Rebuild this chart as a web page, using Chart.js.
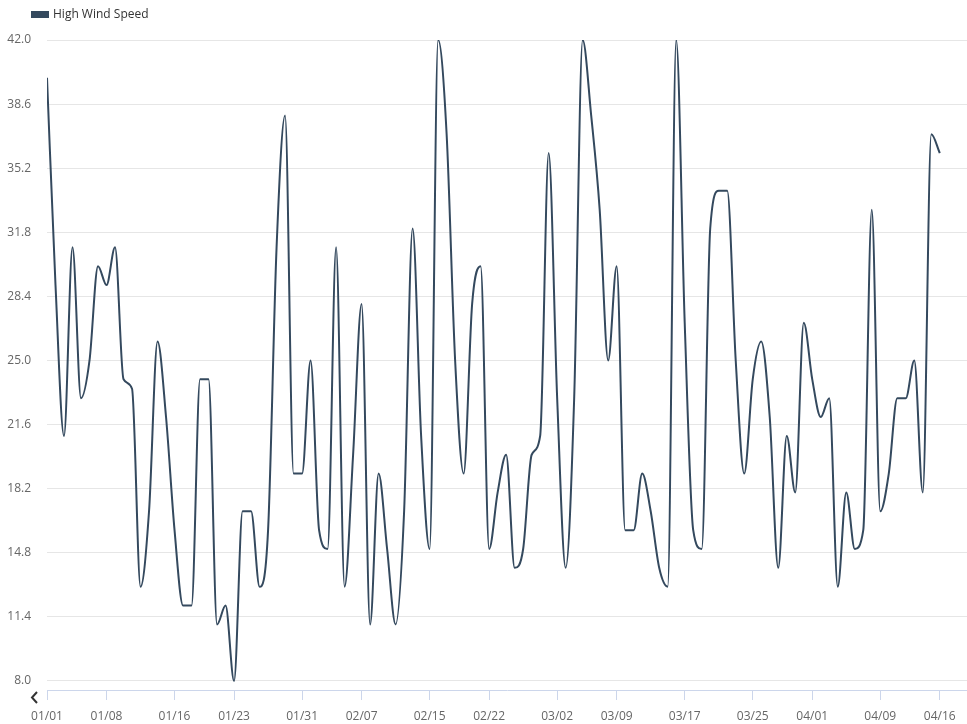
<!DOCTYPE html>
<html>
<head>
<meta charset="utf-8">
<script src="https://cdn.jsdelivr.net/npm/chart.js@4"></script>
<style>
    html, body { margin: 0; padding: 0; background: #fff; }
    #wrap { position: relative; width: 967px; height: 724px; }
</style>
</head>
<body>
<div id="wrap"><canvas id="chart"></canvas></div>
<script>
// daily high wind speed, starting 01/01
const seriesName = 'High Wind Speed';
const windSpeed = [
    40, 29, 21, 31, 23, 25, 30, 29, 31, 24,
    23.5, 13, 17, 26, 22, 16, 12, 12, 24, 24,
    11, 12, 8, 17, 17, 13, 16, 31, 38, 19,
    19, 25, 16, 15, 31, 13, 20, 28, 11, 19,
    15, 11, 17, 32, 21, 15, 42, 37, 25, 19,
    28, 30, 15, 18, 20, 14, 15, 20, 21, 36,
    23, 14, 23, 42, 38, 33, 25, 30, 16, 16,
    19, 17, 14, 13, 42, 27, 16, 15, 32, 34,
    34, 25, 19, 24, 26, 22, 14, 21, 18, 27,
    24, 22, 23, 13, 18, 15, 16, 33, 17, 19,
    23, 23, 25, 18, 37, 36
];
const xTickDays = [0, 7, 15, 22, 30, 37, 45, 52, 60, 67, 75, 83, 90, 98, 105];
const xTickLabels = ['01/01', '01/08', '01/16', '01/23', '01/31', '02/07', '02/15', '02/22',
    '03/02', '03/09', '03/17', '03/25', '04/01', '04/09', '04/16'];
const yTicks = [8.0, 11.4, 14.8, 18.2, 21.6, 25.0, 28.4, 31.8, 35.2, 38.6, 42.0];

const lineColor = '#34495e';

// legend + little scroll arrow, drawn by hand (highcharts look)
const extrasPlugin = {
    id: 'extras',
    afterDraw(chart) {
        const {ctx} = chart;
        ctx.save();
        ctx.fillStyle = lineColor;
        ctx.fillRect(31, 11, 18, 7);
        ctx.fillStyle = '#333333';
        ctx.font = '12px "Open Sans"';
        ctx.textBaseline = 'middle';
        ctx.textAlign = 'left';
        ctx.fillText(chart.data.datasets[0].label, 53, 14.5);

        ctx.strokeStyle = '#333333';
        ctx.lineWidth = 2;
        ctx.beginPath();
        ctx.moveTo(37, 692);
        ctx.lineTo(32, 697.5);
        ctx.lineTo(37, 703);
        ctx.stroke();
        ctx.restore();
    }
};

Chart.defaults.font.family = '"Open Sans"';
Chart.defaults.font.size = 12;

new Chart(document.getElementById('chart'), {
    type: 'line',
    data: {
        datasets: [{
            label: seriesName,
            data: windSpeed.map((v, i) => ({x: i, y: v})),
            borderColor: lineColor,
            backgroundColor: lineColor,
            borderWidth: 2,
            pointRadius: 0,
            cubicInterpolationMode: 'monotone',
            fill: false
        }]
    },
    options: {
        responsive: true,
        maintainAspectRatio: false,
        animation: false,
        layout: {padding: {top: 40, left: 7, right: 0, bottom: 0}},
        plugins: {
            legend: {display: false},
            tooltip: {enabled: false}
        },
        scales: {
            x: {
                type: 'linear',
                min: 0,
                max: 108.2,
                afterBuildTicks: scale => {
                    scale.ticks = xTickDays.map(d => ({value: d}));
                },
                afterFit: scale => {
                    scale.height = 34;
                },
                ticks: {
                    autoSkip: false,
                    maxRotation: 0,
                    padding: 9,
                    color: '#666666',
                    callback: (value, index) => xTickLabels[index]
                },
                grid: {
                    drawOnChartArea: false,
                    drawTicks: true,
                    tickLength: 10,
                    color: '#ccd6eb'
                },
                border: {display: true, color: '#ccd6eb', width: 1}
            },
            y: {
                min: 7.52,
                max: 42,
                afterBuildTicks: scale => {
                    scale.ticks = yTicks.map(v => ({value: v}));
                },
                afterFit: scale => {
                    scale.width = 40;
                },
                ticks: {
                    padding: 16,
                    color: '#666666',
                    callback: value => value.toFixed(1)
                },
                grid: {
                    color: '#e6e6e6',
                    drawTicks: false
                },
                border: {display: false}
            }
        }
    },
    plugins: [extrasPlugin]
});
</script>
</body>
</html>
